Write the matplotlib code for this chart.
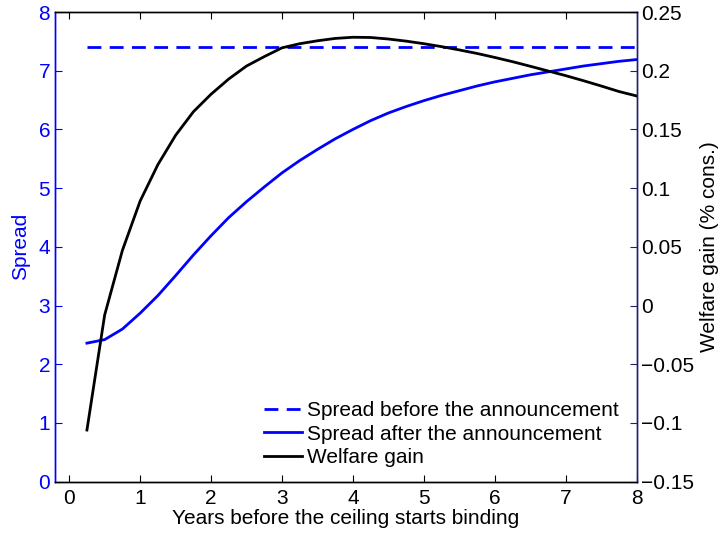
import numpy as np
import matplotlib
matplotlib.use("Agg")
import matplotlib.pyplot as plt
from matplotlib.ticker import FuncFormatter

plt.rcParams['font.family'] = ['Liberation Sans', 'DejaVu Sans']

# Years before the debt ceiling starts binding
years = [0.25, 0.5, 0.75, 1.0, 1.25, 1.5, 1.75, 2.0, 2.25, 2.5, 2.75, 3.0,
         3.25, 3.5, 3.75, 4.0, 4.25, 4.5, 4.75, 5.0, 5.25, 5.5, 5.75, 6.0,
         6.25, 6.5, 6.75, 7.0, 7.25, 7.5, 7.75, 8.0]

spread_before = 7.4

spread_after = [2.36, 2.42, 2.60, 2.87, 3.17, 3.51, 3.86, 4.19, 4.50, 4.77,
                5.02, 5.26, 5.47, 5.66, 5.84, 6.00, 6.15, 6.28, 6.39, 6.49,
                6.58, 6.66, 6.74, 6.81, 6.87, 6.93, 6.98, 7.03, 7.08, 7.12,
                7.16, 7.19]

welfare_gain = [-0.106, -0.008, 0.047, 0.089, 0.120, 0.145, 0.165, 0.180,
                0.193, 0.204, 0.212, 0.2195, 0.2230, 0.2255, 0.2275, 0.2285,
                0.2283, 0.2270, 0.2252, 0.2230, 0.2205, 0.2177, 0.2147,
                0.2113, 0.2077, 0.2038, 0.1998, 0.1958, 0.1915, 0.1870,
                0.1823, 0.1785]

left_ticks = [0, 1, 2, 3, 4, 5, 6, 7, 8]
right_ticks = [-0.15, -0.1, -0.05, 0, 0.05, 0.1, 0.15, 0.2, 0.25]
x_ticks = [0, 1, 2, 3, 4, 5, 6, 7, 8]

blue = '#0000ff'
navy = '#202070'
fs = 15

fig = plt.figure(figsize=(7.22, 5.36), dpi=100)
ax = fig.add_axes([0.0762, 0.1013, 0.8056, 0.8763])
ax2 = ax.twinx()

x = np.array(years)
l1, = ax.plot([x[0], x[-1]], [spread_before, spread_before], color=blue,
              lw=2.0, ls=(0, (5, 3)))
l2, = ax.plot(x, spread_after, color=blue, lw=2.0)
l3, = ax2.plot(x, welfare_gain, color='black', lw=2.0)

ax.set_xlim(-0.2, 8)
ax.set_ylim(0, 8)
ax2.set_ylim(-0.15, 0.25)

ax.set_xticks(x_ticks)
ax.set_yticks(left_ticks)
ax2.set_yticks(right_ticks)


def fmt(v, pos):
    s = '%g' % round(v, 4)
    if s == '-0':
        s = '0'
    return s.replace('-', '\u2212')


ax2.yaxis.set_major_formatter(FuncFormatter(fmt))

ax.tick_params(axis='x', direction='in', top=True, length=5, width=0.8,
               labelsize=fs, colors='black', pad=5)
ax.tick_params(axis='y', direction='in', length=5, width=0.8,
               labelsize=fs, colors=blue, pad=3.5)
ax2.tick_params(axis='y', direction='in', length=5, width=0.8,
                labelsize=fs, colors='black', color=navy, pad=3)

for a in (ax, ax2):
    a.spines['top'].set_color('black')
    a.spines['bottom'].set_color('black')
    a.spines['left'].set_color(blue)
    a.spines['right'].set_color(navy)
    for sp in a.spines.values():
        sp.set_linewidth(1.0)

ax.set_xlabel('Years before the ceiling starts binding', fontsize=fs, labelpad=1)
ax.set_ylabel('Spread', fontsize=fs, color=blue, labelpad=6)
ax2.set_ylabel('Welfare gain (% cons.)', fontsize=fs, color='black', labelpad=4)

ax2.legend([l1, l2, l3],
           ['Spread before the announcement', 'Spread after the announcement',
            'Welfare gain'],
           loc='lower right', frameon=False, fontsize=fs,
           handlelength=1.85, handletextpad=0.25, labelspacing=0.22,
           borderaxespad=0.3, bbox_to_anchor=(0.995, 0.0))

fig.savefig('out.png', dpi=100)
